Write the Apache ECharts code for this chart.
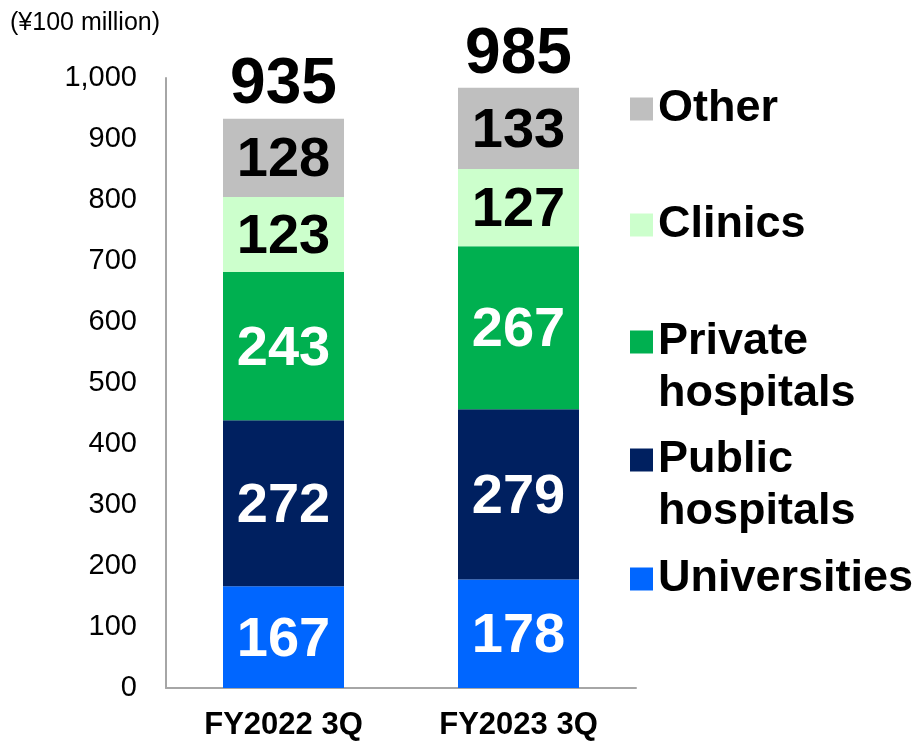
<!DOCTYPE html>
<html>
<head>
<meta charset="utf-8">
<script src="https://cdn.jsdelivr.net/npm/echarts@6/dist/echarts.min.js"></script>
<style>html,body{margin:0;padding:0;background:#fff;}#c{width:919px;height:741px;}</style>
</head>
<body>
<div id="c"></div>
<script>
const categories = ['FY2022 3Q', 'FY2023 3Q'];
const universities = [167, 178];
const publicHospitals = [272, 279];
const privateHospitals = [243, 267];
const clinics = [123, 127];
const other = [128, 133];
const totals = [935, 985];
const yTicks = [0, 100, 200, 300, 400, 500, 600, 700, 800, 900, 1000];

const FONT = '"Liberation Sans", Arial, sans-serif';
const chart = echarts.init(document.getElementById('c'), null, {renderer: 'canvas'});

function seg(name, data, color, labelColor) {
  return {
    name: name, type: 'bar', stack: 'total', data: data, barWidth: 121,
    itemStyle: {color: color},
    label: {show: true, position: 'inside', offset: [0, 3], color: labelColor, fontSize: 56, fontWeight: 'bold', fontFamily: FONT},
    emphasis: {disabled: true}
  };
}

const legendBase = {
  orient: 'vertical', left: 625, itemWidth: 23, itemHeight: 23, itemGap: 0,
  icon: 'rect', selectedMode: false,
  textStyle: {fontSize: 45, fontWeight: 'bold', color: '#000', fontFamily: FONT, lineHeight: 52}
};
function leg(name, top, twoLine) {
  const l = Object.assign({}, legendBase, {data: [name], top: top});
  if (twoLine) {
    l.formatter = function (n) { return ' \n' + n.replace(' ', '\n'); };
  }
  return l;
}

chart.setOption({
  animation: false,
  grid: {left: 166, right: 283, top: 78, bottom: 47},
  legend: [
    leg('Other', 78),
    leg('Clinics', 194),
    leg('Private hospitals', 259, true),
    leg('Public hospitals', 377, true),
    leg('Universities', 548)
  ],
  xAxis: {
    type: 'category', data: categories,
    axisLine: {lineStyle: {color: '#A6A6A6', width: 2}},
    axisTick: {show: false},
    axisLabel: {fontSize: 31, fontWeight: 'bold', color: '#000', fontFamily: FONT, margin: 22}
  },
  yAxis: {
    type: 'value', min: 0, max: 1000, interval: 100,
    name: '(¥100 million)', nameLocation: 'end', nameGap: 0,
    nameTextStyle: {fontSize: 25, color: '#000', fontFamily: FONT, align: 'left', padding: [0, 0, 42, -156]},
    axisLine: {show: true, lineStyle: {color: '#A6A6A6', width: 2}},
    axisTick: {show: false},
    splitLine: {show: false},
    axisLabel: {fontSize: 29, color: '#000', fontFamily: FONT, margin: 29,
      formatter: function (v) { return yTicks.indexOf(v) >= 0 ? v.toLocaleString('en-US') : ''; }}
  },
  series: [
    seg('Universities', universities, '#0066FF', '#fff'),
    seg('Public hospitals', publicHospitals, '#002060', '#fff'),
    seg('Private hospitals', privateHospitals, '#00B050', '#fff'),
    seg('Clinics', clinics, '#CCFFCC', '#000'),
    seg('Other', other, '#BFBFBF', '#000'),
    {
      name: 'Total', type: 'scatter', data: totals, symbolSize: 0,
      itemStyle: {opacity: 1},
      label: {show: true, position: 'top', distance: 0, color: '#000', fontSize: 64, fontWeight: 'bold', fontFamily: FONT, opacity: 1},
      emphasis: {disabled: true}, silent: true
    }
  ]
});
</script>
</body>
</html>
